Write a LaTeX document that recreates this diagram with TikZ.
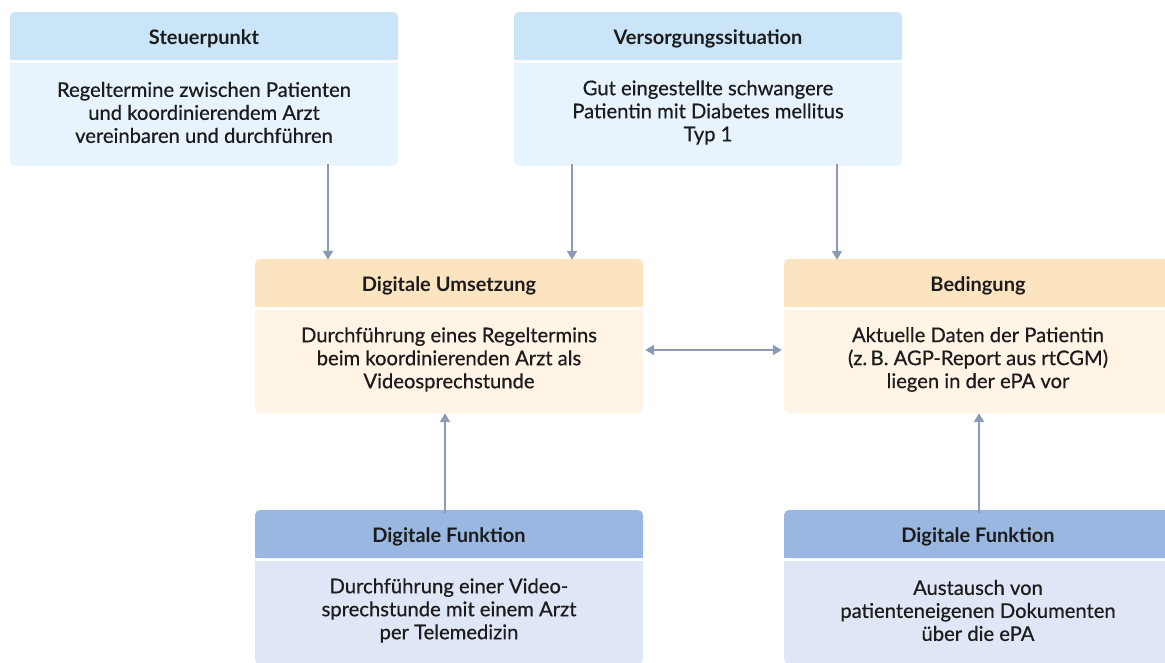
\documentclass[tikz,border=0pt]{standalone}
\usepackage{fontspec}
\setmainfont{Lato}
\newfontfamily\bodyfont{Lato}[FakeBold=0.6]
\usetikzlibrary{arrows.meta}
\definecolor{skyhead}{HTML}{C9E5F7}
\definecolor{skybody}{HTML}{E7F4FD}
\definecolor{sandhead}{HTML}{FDE4C0}
\definecolor{sandbody}{HTML}{FFF4E6}
\definecolor{bluehead}{HTML}{99B7E0}
\definecolor{bluebody}{HTML}{DFE6F5}
\definecolor{arrowgray}{HTML}{8C9BB5}
\definecolor{inkblack}{HTML}{1C1C1C}
\tikzset{
  headtxt/.style={inner sep=0pt, minimum width=388pt, minimum height=48pt,
    font=\fontsize{20}{24}\selectfont\bfseries, text=inkblack},
  bodytxt/.style={inner sep=0pt, minimum width=388pt, minimum height=103pt,
    align=center, font=\fontsize{20.2}{23}\selectfont\bodyfont, text=inkblack},
  arr/.style={draw=arrowgray, line width=2pt, -{Triangle[length=9pt,width=10pt]}, shorten >=2pt},
  dblarr/.style={draw=arrowgray, line width=2pt,
    {Triangle[length=9pt,width=10pt]}-{Triangle[length=9pt,width=10pt]},
    shorten >=2pt, shorten <=2pt}
}
% card: name, left x, top y, colour prefix, title, text
\newcommand{\card}[6]{%
  \fill[#4head, rounded corners=5pt] (#2,#3) rectangle (#2+388,#3+48);
  \fill[#4head] (#2,#3+24) rectangle (#2+388,#3+48);
  \fill[#4body, rounded corners=5pt] (#2,#3+51) rectangle (#2+388,#3+154);
  \fill[#4body] (#2,#3+51) rectangle (#2+388,#3+100);
  \node[headtxt] (#1-h) at (#2+194,#3+27) {#5};
  \node[bodytxt] (#1-b) at (#2+194,#3+100.5) {#6};
}

\begin{document}
\begin{tikzpicture}[x=1pt, y=-1pt]
		%%%%% START %%%%%
		\clip (0,0) rectangle (1165,662);
		
		\card{stp}{10}{12}{sky}{Steuerpunkt}{Regeltermine zwischen Patienten\\und koordinierendem Arzt\\vereinbaren und durchführen}
		\card{vsg}{514}{12}{sky}{Versorgungssituation}{Gut eingestellte schwangere\\Patientin mit Diabetes mellitus\\Typ 1}
		
		\card{dgu}{255}{259}{sand}{Digitale Umsetzung}{Durchführung eines Regeltermins\\beim koordinierenden Arzt als\\Videosprechstunde}
		\card{bed}{784}{259}{sand}{Bedingung}{Aktuelle Daten der Patientin\\(z.\,B. AGP-Report aus rtCGM)\\liegen in der ePA vor}
		
		\card{dfl}{255}{510}{blue}{Digitale Funktion}{Durchführung einer Video-\\sprechstunde mit einem Arzt\\per Telemedizin}
		\card{dfr}{784}{510}{blue}{Digitale Funktion}{Austausch von\\patienteneigenen Dokumenten\\über die ePA}
		
		\draw[arr] ([xshift=124pt]stp-b.south) -- ([xshift=124pt]stp-b.south |- dgu-h.north);
		\draw[arr] ([xshift=-136pt]vsg-b.south) -- ([xshift=-136pt]vsg-b.south |- dgu-h.north);
		\draw[arr] ([xshift=129pt]vsg-b.south) -- ([xshift=129pt]vsg-b.south |- bed-h.north);
		
		\draw[dblarr] ([yshift=9.5pt]dgu-b.east) -- ([yshift=9.5pt]dgu-b.east -| bed-b.west);
		
		\draw[arr] ([xshift=-4pt]dfl-h.north) -- ([xshift=-4pt]dfl-h.north |- dgu-b.south);
		\draw[arr] ([xshift=1pt]dfr-h.north) -- ([xshift=1pt]dfr-h.north |- bed-b.south);
		
		%%%%% END %%%%%
\end{tikzpicture}
\end{document}
